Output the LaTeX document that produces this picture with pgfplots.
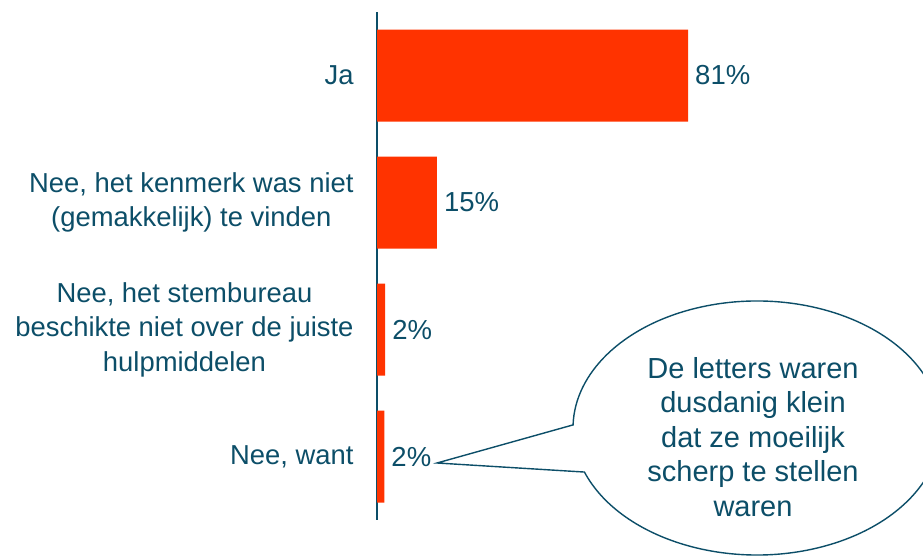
\documentclass[border=0pt]{standalone}
\usepackage{fontspec}
\setmainfont{Liberation Sans}
\usepackage{pgfplots}
\pgfplotsset{compat=1.18}
\definecolor{tealtxt}{RGB}{12,78,104}
\definecolor{barred}{RGB}{255,51,0}
\begin{document}
\fontsize{27}{34.5}\selectfont
\begin{tikzpicture}[x=1pt,y=1pt]
\useasboundingbox (0,0) rectangle (923,556);
\clip (0,0) rectangle (923,556);
\begin{axis}[
  at={(377pt,36pt)}, anchor=south west,
  scale only axis, width=384pt, height=508pt,
  xmin=0, xmax=100, ymin=-0.5, ymax=3.5, y dir=reverse,
  xbar, bar width=92pt,
  axis x line=none, axis y line*=left,
  y axis line style={draw=tealtxt, line width=1.3pt},
  ytick={0,1,2,3},
  yticklabels={Ja,{Nee, het kenmerk was niet\\(gemakkelijk) te vinden},{Nee, het stembureau\\beschikte niet over de juiste\\hulpmiddelen},{Nee, want}},
  ytick style={draw=none},
  yticklabel style={align=center, anchor=east, text=tealtxt, inner xsep=0pt, xshift=-19pt, font=\fontsize{27.4}{34.5}\selectfont},
  point meta=explicit symbolic,
  nodes near coords,
  nodes near coords style={text=tealtxt, anchor=west, inner xsep=7pt, font=\fontsize{27.5}{34.5}\selectfont},
  clip=false,
]
\addplot[fill=barred, draw=none] coordinates {(81,0) [81\%] (15.6,1) [15\%] (2.1,2) [2\%] (1.9,3) [2\%]};
\end{axis}
\draw[tealtxt, line width=1.4pt, fill=white] (757,128) ++(200.3:184pt and 127pt) arc[start angle=200.3, end angle=538.6, x radius=184pt, y radius=127pt] -- (437,93) -- cycle;
\node[text=tealtxt, align=center, font=\fontsize{29}{34.5}\selectfont] at (753,119) {De letters waren\\dusdanig klein\\dat ze moeilijk\\scherp te stellen\\waren};
\end{tikzpicture}
\end{document}
